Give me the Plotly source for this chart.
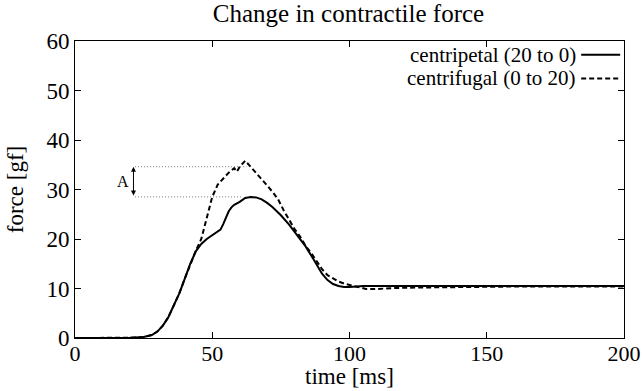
import plotly.graph_objects as go

# Data
t_centripetal = [0, 10, 20, 25, 28, 30, 32, 34, 36, 38, 40, 42, 44, 46, 48, 50, 52, 53, 54, 55, 56, 57, 58, 60,
                 62, 64, 66, 68, 70, 72, 75, 78, 81, 84, 87, 90, 92, 94, 96, 98, 100, 102, 105, 110, 120, 140,
                 160, 180, 200]
f_centripetal = [0, 0, 0.05, 0.2, 0.6, 1.3, 2.5, 4.2, 6.5, 9, 12, 15, 17.5, 19, 20, 20.8, 21.5, 21.9, 23.0, 24.3,
                 25.6, 26.4, 26.9, 27.5, 28.3, 28.5, 28.4, 28.0, 27.3, 26.4, 24.8, 22.9, 20.6, 18.5, 15.8, 13.0,
                 11.7, 10.9, 10.5, 10.3, 10.3, 10.4, 10.5, 10.5, 10.45, 10.5, 10.5, 10.5, 10.5]

t_centrifugal = [0, 10, 20, 25, 28, 30, 32, 34, 36, 38, 40, 42, 44, 46, 48, 50, 52, 54, 56, 58, 59, 60, 61, 62,
                 63, 64, 65, 66, 68, 70, 72, 74, 76, 78, 80, 82, 84, 86, 88, 90, 92, 94, 96, 98, 100, 103, 106,
                 110, 116, 125, 140, 160, 180, 200]
f_centrifugal = [0, 0, 0.05, 0.2, 0.6, 1.3, 2.5, 4.2, 6.5, 9, 12, 15, 17.6, 20, 24.0, 28.5, 31.0, 32.3, 33.4,
                 34.3, 33.6, 34.6, 35.3, 35.8, 35.2, 34.6, 34.0, 33.3, 32.0, 30.8, 29.5, 28.0, 25.8, 23.8, 22.0,
                 20.5, 18.6, 17.2, 15.6, 13.9, 12.7, 12.0, 11.4, 11.0, 10.7, 10.2, 9.9, 9.9, 10.1, 10.2, 10.3,
                 10.4, 10.4, 10.4]

series_names = ["centripetal (20 to 0)", "centrifugal (0 to 20)"]
x_title = "time [ms]"
y_title = "force [gf]"
chart_title = "Change in contractile force"

# "A" marker levels and extents
a_top, a_bottom = 34.6, 28.5
a_arrow_t = 21.3
a_line_start = 21.9
a_top_end, a_bottom_end = 62.5, 61.2

x_ticks = [0, 50, 100, 150, 200]
y_ticks = [0, 10, 20, 30, 40, 50, 60]

FONT = "Liberation Serif, Times New Roman, Times, serif"

fig = go.Figure()
fig.add_trace(go.Scatter(x=t_centripetal, y=f_centripetal, mode="lines", name=series_names[0],
                         line=dict(color="black", width=2), showlegend=False))
fig.add_trace(go.Scatter(x=t_centrifugal, y=f_centrifugal, mode="lines", name=series_names[1],
                         line=dict(color="black", width=2, dash="5px,3px"), showlegend=False))

# dotted guide lines
fig.add_trace(go.Scatter(x=[a_line_start, a_top_end], y=[a_top, a_top], mode="lines",
                         line=dict(color="#777777", width=1, dash="1px,2px"), showlegend=False, hoverinfo="skip"))
fig.add_trace(go.Scatter(x=[a_line_start, a_bottom_end], y=[a_bottom, a_bottom], mode="lines",
                         line=dict(color="#777777", width=1, dash="1px,2px"), showlegend=False, hoverinfo="skip"))

# double-headed arrow
fig.add_annotation(x=a_arrow_t, y=a_top, ax=a_arrow_t, ay=a_bottom, xref="x", yref="y", axref="x", ayref="y",
                   showarrow=True, arrowhead=2, arrowside="end+start", arrowsize=1, arrowwidth=1,
                   arrowcolor="black", text="")
fig.add_annotation(x=a_arrow_t - 1.0, y=(a_top + a_bottom) / 2, xref="x", yref="y", text="A",
                   showarrow=False, xanchor="right", font=dict(family=FONT, size=16, color="black"))

# gnuplot-style legend (text then sample)
leg_y = [0.954, 0.874]
for name, yy, dash in zip(series_names, leg_y, ["solid", "5px,3px"]):
    fig.add_annotation(x=0.917, y=yy, xref="paper", yref="paper", text=name, showarrow=False,
                       xanchor="right", yanchor="middle", font=dict(family=FONT, size=21, color="black"))
    fig.add_shape(type="line", xref="paper", yref="paper", x0=0.922, x1=0.993, y0=yy, y1=yy,
                  line=dict(color="black", width=2, dash=dash))

# axis titles as annotations for exact placement
fig.add_annotation(x=0.5, y=-0.131, xref="paper", yref="paper", text=x_title, showarrow=False,
                   xanchor="center", yanchor="middle", font=dict(family=FONT, size=23, color="black"))
fig.add_annotation(x=-0.108, y=0.5, xref="paper", yref="paper", text=y_title, showarrow=False,
                   textangle=-90, xanchor="center", yanchor="middle", font=dict(family=FONT, size=23, color="black"))

fig.update_layout(
    width=643, height=391,
    margin=dict(l=75, r=19, t=41, b=53, autoexpand=False),
    paper_bgcolor="white", plot_bgcolor="white",
    font=dict(family=FONT, color="black"),
    title=dict(text=chart_title, x=0.542, xanchor="center", y=0.966, yanchor="middle",
               font=dict(family=FONT, size=25, color="black")),
)
fig.update_xaxes(range=[0, 200], tickvals=x_ticks, ticks="inside", ticklen=6, tickcolor="black",
                 showline=True, linecolor="black", linewidth=1, mirror="ticks", showgrid=False, zeroline=False,
                 automargin=False, ticklabelstandoff=-4,
                 tickfont=dict(family=FONT, size=22, color="black"))
fig.update_yaxes(range=[0, 60], tickvals=y_ticks, ticks="inside", ticklen=6, tickcolor="black",
                 showline=True, linecolor="black", linewidth=1, mirror="ticks", showgrid=False, zeroline=False,
                 automargin=False,
                 tickfont=dict(family=FONT, size=23, color="black"))

fig.write_html("out.html")
